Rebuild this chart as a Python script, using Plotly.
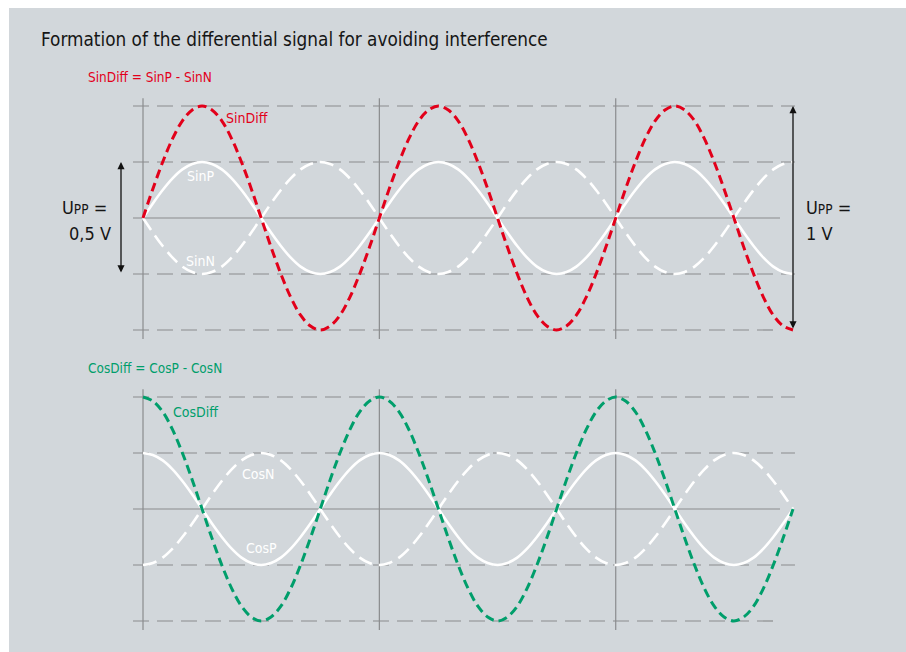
import plotly.graph_objects as go

# ---------------- data ----------------
phase_deg = [0, 15, 30, 45, 60, 75, 90, 105, 120, 135, 150, 165,
             180, 195, 210, 225, 240, 255, 270, 285, 300, 315, 330, 345,
             360, 375, 390, 405, 420, 435, 450, 465, 480, 495, 510, 525,
             540, 555, 570, 585, 600, 615, 630, 645, 660, 675, 690, 705,
             720, 735, 750, 765, 780, 795, 810, 825, 840, 855, 870, 885,
             900, 915, 930, 945, 960, 975, 990]

sin_p = [0, 0.065, 0.125, 0.177, 0.217, 0.241, 0.25, 0.241, 0.217, 0.177, 0.125, 0.065,
         0, -0.065, -0.125, -0.177, -0.217, -0.241, -0.25, -0.241, -0.217, -0.177, -0.125, -0.065,
         0, 0.065, 0.125, 0.177, 0.217, 0.241, 0.25, 0.241, 0.217, 0.177, 0.125, 0.065,
         0, -0.065, -0.125, -0.177, -0.217, -0.241, -0.25, -0.241, -0.217, -0.177, -0.125, -0.065,
         0, 0.065, 0.125, 0.177, 0.217, 0.241, 0.25, 0.241, 0.217, 0.177, 0.125, 0.065,
         0, -0.065, -0.125, -0.177, -0.217, -0.241, -0.25]
sin_n = [-v for v in sin_p]
sin_diff = [p - n for p, n in zip(sin_p, sin_n)]   # SinDiff = SinP - SinN

cos_p = [0.25, 0.241, 0.217, 0.177, 0.125, 0.065, 0, -0.065, -0.125, -0.177, -0.217, -0.241,
         -0.25, -0.241, -0.217, -0.177, -0.125, -0.065, 0, 0.065, 0.125, 0.177, 0.217, 0.241,
         0.25, 0.241, 0.217, 0.177, 0.125, 0.065, 0, -0.065, -0.125, -0.177, -0.217, -0.241,
         -0.25, -0.241, -0.217, -0.177, -0.125, -0.065, 0, 0.065, 0.125, 0.177, 0.217, 0.241,
         0.25, 0.241, 0.217, 0.177, 0.125, 0.065, 0, -0.065, -0.125, -0.177, -0.217, -0.241,
         -0.25, -0.241, -0.217, -0.177, -0.125, -0.065, 0]
cos_n = [-v for v in cos_p]
cos_diff = [p - n for p, n in zip(cos_p, cos_n)]   # CosDiff = CosP - CosN

grid_levels = [0.5, 0.25, -0.25, -0.5]
grid_ends = [993, 993, 993, 960]
period_marks = [0, 360, 720]
upp_small = 0.25     # half of 0.5 V
upp_big = 0.5        # half of 1 V

# ---------------- styling ----------------
W, H = 906, 652
FONT = "Liberation Sans Narrow, DejaVu Sans Condensed, Arial Narrow, sans-serif"
RED = "#e2001a"
GREEN = "#009e6b"
GRAY = "#8a8c8e"
BG = "#d2d7db"
INK = "#151515"

# pixel mapping
X0_PX = 143.0
PX_PER_DEG = 650.0 / 990.0
PX_PER_V = 224.0
Y_TOP_ZERO = 218.0
Y_BOT_ZERO = 509.0

xr = [-X0_PX / PX_PER_DEG, (W - X0_PX) / PX_PER_DEG]
y1r = [(Y_TOP_ZERO - H) / PX_PER_V, Y_TOP_ZERO / PX_PER_V]
y2r = [(Y_BOT_ZERO - H) / PX_PER_V, Y_BOT_ZERO / PX_PER_V]


def px(x):
    return x / W


def py(y):
    return 1 - y / H


def deg(xpx):
    return (xpx - X0_PX) / PX_PER_DEG


fig = go.Figure()

# top panel
fig.add_trace(go.Scatter(x=phase_deg, y=sin_n, yaxis="y", mode="lines",
                         line=dict(color="white", width=2.6, dash="14px,7px", shape="spline")))
fig.add_trace(go.Scatter(x=phase_deg, y=sin_p, yaxis="y", mode="lines",
                         line=dict(color="white", width=2.6, shape="spline")))
fig.add_trace(go.Scatter(x=phase_deg, y=sin_diff, yaxis="y", mode="lines",
                         line=dict(color=RED, width=3, dash="9px,5px", shape="spline")))
# bottom panel
fig.add_trace(go.Scatter(x=phase_deg, y=cos_n, yaxis="y2", mode="lines",
                         line=dict(color="white", width=2.6, dash="14px,7px", shape="spline")))
fig.add_trace(go.Scatter(x=phase_deg, y=cos_p, yaxis="y2", mode="lines",
                         line=dict(color="white", width=2.6, shape="spline")))
fig.add_trace(go.Scatter(x=phase_deg, y=cos_diff, yaxis="y2", mode="lines",
                         line=dict(color=GREEN, width=3, dash="9px,5px", shape="spline")))

shapes = []
# gray panel background
shapes.append(dict(type="rect", xref="paper", yref="paper", x0=px(9), x1=1, y0=0, y1=py(8),
                   fillcolor=BG, line=dict(width=0), layer="below"))
for yref in ["y", "y2"]:
    for lvl, xe in zip(grid_levels, grid_ends):
        shapes.append(dict(type="line", xref="x", yref=yref, x0=deg(133), x1=xe,
                           y0=lvl, y1=lvl, line=dict(color=GRAY, width=1.2, dash="16px,8px"),
                           layer="below"))
    shapes.append(dict(type="line", xref="x", yref=yref, x0=deg(133), x1=deg(780), y0=0, y1=0,
                       line=dict(color=GRAY, width=1.2), layer="below"))
    for xm in period_marks:
        shapes.append(dict(type="line", xref="x", yref=yref, x0=xm, x1=xm, y0=0.535, y1=-0.54,
                           line=dict(color=GRAY, width=1.2), layer="below"))

ann = []
ann.append(dict(text="Formation of the differential signal for avoiding interference",
                x=px(39), y=py(40), xref="paper", yref="paper", xanchor="left", yanchor="middle",
                showarrow=False, font=dict(family=FONT, size=18.8, color=INK)))
ann.append(dict(text="SinDiff = SinP - SinN", x=px(86), y=py(77), xref="paper", yref="paper",
                xanchor="left", yanchor="middle", showarrow=False,
                font=dict(family=FONT, size=13.5, color=RED)))
ann.append(dict(text="CosDiff = CosP - CosN", x=px(86), y=py(368), xref="paper", yref="paper",
                xanchor="left", yanchor="middle", showarrow=False,
                font=dict(family=FONT, size=13.5, color=GREEN)))

labels = [("SinDiff", 247, 118, RED), ("SinP", 200, 176, "white"), ("SinN", 200, 261, "white"),
          ("CosDiff", 195, 412, GREEN), ("CosN", 258, 474, "white"), ("CosP", 261, 548, "white")]
for t, x, y, c in labels:
    ann.append(dict(text=t, x=px(x), y=py(y), xref="paper", yref="paper", xanchor="center",
                    yanchor="middle", showarrow=False, font=dict(family=FONT, size=14, color=c)))

upp = "U<span style='font-size:13.5px'>PP</span> ="
ann.append(dict(text=upp, x=px(109), y=py(207), xref="paper", yref="paper", xanchor="right",
                yanchor="middle", showarrow=False, font=dict(family=FONT, size=18, color=INK)))
ann.append(dict(text="0,5 V", x=px(113), y=py(234), xref="paper", yref="paper", xanchor="right",
                yanchor="middle", showarrow=False, font=dict(family=FONT, size=18, color=INK)))
ann.append(dict(text=upp, x=px(804), y=py(207), xref="paper", yref="paper", xanchor="left",
                yanchor="middle", showarrow=False, font=dict(family=FONT, size=18, color=INK)))
ann.append(dict(text="1 V", x=px(804), y=py(234), xref="paper", yref="paper", xanchor="left",
                yanchor="middle", showarrow=False, font=dict(family=FONT, size=18, color=INK)))

# double-headed arrows
for xa, half in [(deg(121), upp_small), (phase_deg[-1], upp_big)]:
    ann.append(dict(text="", x=xa, y=half, ax=xa, ay=-half, xref="x", yref="y", axref="x", ayref="y",
                    showarrow=True, arrowhead=2, arrowside="end+start", arrowsize=1.1,
                    arrowwidth=1.3, arrowcolor="#111111"))

fig.update_layout(
    width=W, height=H, autosize=False,
    margin=dict(l=0, r=0, t=0, b=0, pad=0),
    paper_bgcolor="white", plot_bgcolor="rgba(0,0,0,0)",
    showlegend=False,
    xaxis=dict(range=xr, visible=False, fixedrange=True),
    yaxis=dict(range=y1r, visible=False, domain=[0, 1], fixedrange=True),
    yaxis2=dict(range=y2r, visible=False, overlaying="y", domain=[0, 1], fixedrange=True),
    shapes=shapes, annotations=ann,
)

fig.write_html("out.html", config={"displayModeBar": False},
               post_script="document.body.style.margin='0';")
